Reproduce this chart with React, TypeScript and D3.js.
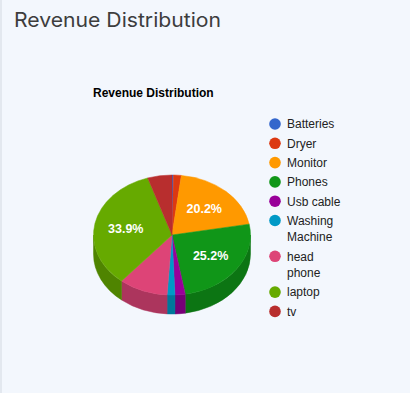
import { useRef, useEffect } from "react";
import * as d3 from "d3";

// Revenue share per product (percent)
const categories = [
  "Batteries",
  "Dryer",
  "Monitor",
  "Phones",
  "Usb cable",
  "Washing Machine",
  "head phone",
  "laptop",
  "tv",
];
const revenue = [0.3, 1.6, 20.2, 25.2, 2.1, 1.6, 10.1, 33.9, 5.0];
const colors = [
  "#3366cc",
  "#dc3912",
  "#ff9900",
  "#109618",
  "#990099",
  "#0099c6",
  "#dd4477",
  "#66aa00",
  "#b82e2e",
];

const W = 410;
const H = 393;

export default function App() {
  const svgRef = useRef<SVGSVGElement | null>(null);

  useEffect(() => {
    const svg = d3.select(svgRef.current);
    svg.selectAll("*").remove();
    svg.attr("width", W).attr("height", H);

    // card background + faint left edge
    svg.append("rect").attr("width", W).attr("height", H).attr("fill", "#f3f7fd");
    svg.append("rect").attr("width", 2).attr("height", H).attr("fill", "#e3e8ef");

    svg
      .append("text")
      .attr("x", 14)
      .attr("y", 27)
      .attr("font-family", "Inter, 'Open Sans', sans-serif")
      .attr("font-size", 20)
      .attr("fill", "#3d3d3d")
      .attr("textLength", 207)
      .attr("lengthAdjust", "spacingAndGlyphs")
      .text("Revenue Distribution");

    svg
      .append("text")
      .attr("x", 93)
      .attr("y", 97)
      .attr("font-family", "Arial, 'Liberation Sans', sans-serif")
      .attr("font-size", 12)
      .attr("font-weight", "bold")
      .attr("fill", "#000")
      .text("Revenue Distribution");

    // 3D pie
    const cx = 172;
    const cy = 235;
    const rx = 78.5;
    const ry = 60;
    const depth = 19;

    const data = categories.map((c, i) => ({ label: c, value: revenue[i], color: colors[i] }));
    const total = d3.sum(revenue);
    const arcs = d3
      .pie<any>()
      .sort(null)
      .value((d) => d.value)(data);

    const pt = (a: number, dy = 0) => [cx + rx * Math.sin(a), cy - ry * Math.cos(a) + dy];

    const g = svg.append("g");

    // side walls, only the front half (pi/2 .. 3pi/2) is visible
    arcs.forEach((a) => {
      const b0 = Math.max(a.startAngle, Math.PI / 2);
      const b1 = Math.min(a.endAngle, (3 * Math.PI) / 2);
      if (b1 <= b0) return;
      const p0 = pt(b0);
      const p1 = pt(b1);
      const q1 = pt(b1, depth);
      const q0 = pt(b0, depth);
      const large = b1 - b0 > Math.PI ? 1 : 0;
      const side = d3.color(a.data.color)!.darker(0.7).formatHex();
      g.append("path")
        .attr(
          "d",
          `M${p0[0]},${p0[1]} A${rx},${ry} 0 ${large} 1 ${p1[0]},${p1[1]} L${q1[0]},${q1[1]} A${rx},${ry} 0 ${large} 0 ${q0[0]},${q0[1]} Z`
        )
        .attr("fill", side)
        .attr("stroke", side)
        .attr("stroke-width", 0.5);
    });

    // top faces
    arcs.forEach((a) => {
      const p0 = pt(a.startAngle);
      const p1 = pt(a.endAngle);
      const large = a.endAngle - a.startAngle > Math.PI ? 1 : 0;
      g.append("path")
        .attr(
          "d",
          `M${cx},${cy} L${p0[0]},${p0[1]} A${rx},${ry} 0 ${large} 1 ${p1[0]},${p1[1]} Z`
        )
        .attr("fill", a.data.color)
        .attr("stroke", a.data.color)
        .attr("stroke-width", 0.5);
    });

    // slice labels for the large slices
    const fmt = d3.format(".1%");
    arcs.forEach((a) => {
      const share = a.data.value / total;
      if (share < 0.15) return;
      const mid = (a.startAngle + a.endAngle) / 2;
      const x = cx + rx * 0.6 * Math.sin(mid);
      const y = cy - ry * 0.6 * Math.cos(mid);
      g.append("text")
        .attr("x", x)
        .attr("y", y)
        .attr("dy", "0.35em")
        .attr("text-anchor", "middle")
        .attr("font-family", "Arial, 'Liberation Sans', sans-serif")
        .attr("font-size", 12.5)
        .attr("font-weight", "bold")
        .attr("fill", "#fff")
        .text(fmt(share));
    });

    // legend with wrapping labels
    const ctx = document.createElement("canvas").getContext("2d")!;
    ctx.font = "12px 'Liberation Sans', Arial, sans-serif";
    const wrap = (s: string) => {
      const words = s.split(" ");
      const lines: string[] = [];
      let cur = "";
      words.forEach((w) => {
        const t = cur ? cur + " " + w : w;
        if (cur && ctx.measureText(t).width > 56) {
          lines.push(cur);
          cur = w;
        } else cur = t;
      });
      lines.push(cur);
      return lines;
    };

    const legend = svg.append("g");
    let y = 124;
    data.forEach((d) => {
      const lines = wrap(d.label);
      legend.append("circle").attr("cx", 275).attr("cy", y).attr("r", 5.8).attr("fill", d.color);
      lines.forEach((ln, j) => {
        legend
          .append("text")
          .attr("x", 287)
          .attr("y", y + j * 16.5 + 4.3)
          .attr("font-family", "Arial, 'Liberation Sans', sans-serif")
          .attr("font-size", 12)
          .attr("fill", "#222")
          .text(ln);
      });
      y += 19.3 + 16.5 * (lines.length - 1);
    });
  }, []);

  return (
    <div style={{ position: "absolute", left: 0, top: 0 }}>
      <svg ref={svgRef} style={{ display: "block" }} />
    </div>
  );
}
